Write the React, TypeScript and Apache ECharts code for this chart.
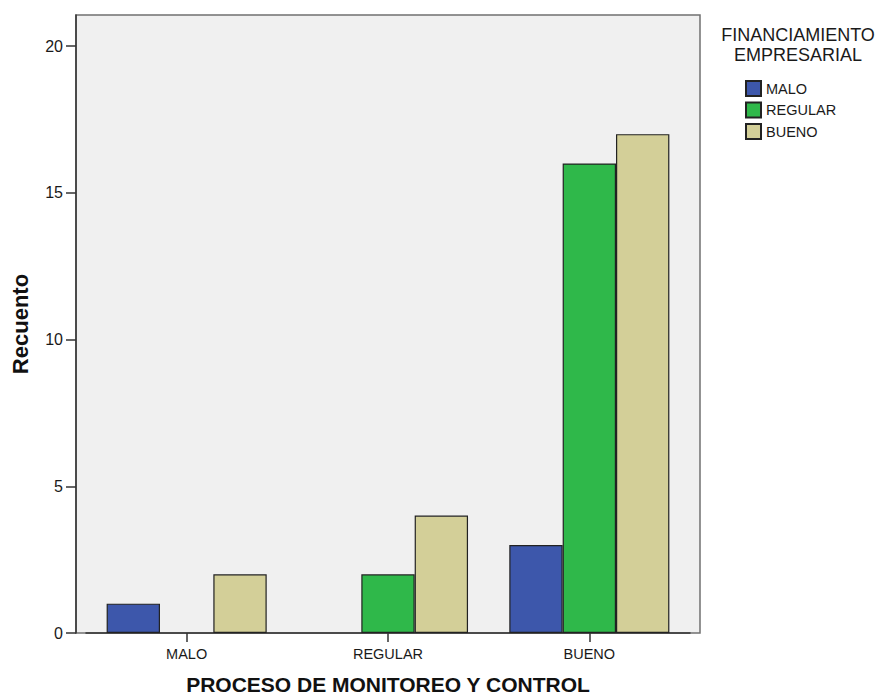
import React, { useEffect, useRef } from "react";
import * as echarts from "echarts";

const categories = ["MALO", "REGULAR", "BUENO"];
const seriesNames = ["MALO", "REGULAR", "BUENO"];
const maloValues = [1, 0, 3];
const regularValues = [0, 2, 16];
const buenoValues = [2, 4, 17];
const yTicks = [0, 5, 10, 15, 20];
const colors = ["#3d57ab", "#2fb84a", "#d3cf98"];

const FONT = "'Liberation Sans', Arial, sans-serif";

export default function App() {
  const ref = useRef<HTMLDivElement>(null);
  useEffect(() => {
    document.body.style.margin = "0";
    const chart = echarts.init(ref.current!, null, { renderer: "svg" });
    const data = [maloValues, regularValues, buenoValues];
    chart.setOption({
      animation: false,
      textStyle: { fontFamily: FONT },
      title: {
        text: "FINANCIAMIENTO\nEMPRESARIAL",
        left: 793,
        top: 20,
        textAlign: "center",
        textStyle: { fontFamily: FONT, fontSize: 18, fontWeight: "normal", color: "#1a1a1a", lineHeight: 20 },
      },
      legend: {
        orient: "vertical",
        left: 740,
        top: 75,
        itemWidth: 15,
        itemHeight: 15,
        itemGap: 4.5,
        icon: "rect",
        data: seriesNames,
        textStyle: { fontFamily: FONT, fontSize: 14.5, color: "#1a1a1a" },
      },
      graphic: [
        {
          type: "rect",
          z: -10,
          shape: { x: 76, y: 15, width: 624, height: 618 },
          style: { fill: "#f0f0f0", stroke: "#707070", lineWidth: 1.5 },
        },
      ],
      grid: { left: 86, top: 15, width: 604, height: 618, outerBoundsMode: "none", containLabel: false },
      xAxis: {
        type: "category",
        data: categories,
        axisLine: { show: true, lineStyle: { color: "#333", width: 1.5 } },
        axisTick: { show: true, alignWithLabel: true, length: 9, lineStyle: { color: "#333", width: 1.5 } },
        axisLabel: { color: "#1a1a1a", fontSize: 14.5, margin: 13, fontFamily: FONT },
        name: "PROCESO DE MONITOREO Y CONTROL",
        nameLocation: "middle",
        nameGap: 41,
        nameTextStyle: { fontFamily: FONT, fontSize: 21, fontWeight: "bold", color: "#111" },
      },
      yAxis: {
        type: "value",
        min: 0,
        max: 21.06,
        offset: 10,
        splitLine: { show: false },
        axisLine: { show: true, lineStyle: { color: "#333", width: 1.5 } },
        axisTick: { show: true, length: 10, customValues: yTicks, lineStyle: { color: "#333", width: 1.5 } },
        axisLabel: { customValues: yTicks, color: "#1a1a1a", fontSize: 16, margin: 13, fontFamily: FONT },
        name: "Recuento",
        nameLocation: "middle",
        nameGap: 45,
        nameTextStyle: { fontFamily: FONT, fontSize: 22, fontWeight: "bold", color: "#111" },
      },
      series: seriesNames.map((name, i) => ({
        name,
        type: "bar",
        data: data[i].map((v) => (v === 0 ? { value: v, itemStyle: { borderWidth: 0 } } : v)),
        barGap: "0%",
        barCategoryGap: "20.5%",
        itemStyle: { color: colors[i], borderColor: "#222", borderWidth: 1.2 },
      })),
    });
    return () => chart.dispose();
  }, []);
  return <div ref={ref} style={{ width: 877, height: 698 }} />;
}
